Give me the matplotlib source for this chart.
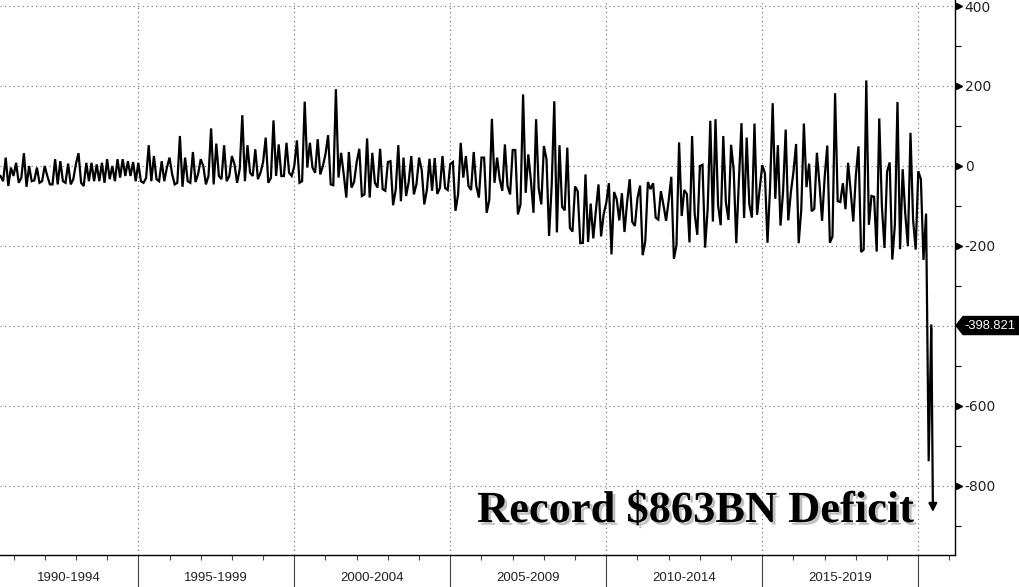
import numpy as np
import pandas as pd
import matplotlib
matplotlib.use('Agg')
import matplotlib.pyplot as plt
import matplotlib.transforms as mtransforms
import matplotlib.patheffects as pe
from matplotlib.patches import Polygon

# monthly federal budget balance, $BN, starting Jul 1990 (month-end points)
budget_1990s = [
    -25, -38, 21, -50, -4, -25,
    8, -42, -30, 32, -52, 0, -38, -36, -4, -42, -38, 0,
    -25, -46, -46, 17, -46, 12, -38, -42, 6, -46, -33, 5,
    32, -42, -50, 8, -38, 8, -38, 4, -38, 8, -42, 17,
    -33, 0, -38, 17, -29, 17, -25, 12, -25, 10, -38, 8,
    -38, -42, -30, 52, -38, 25, -33, -38, 12, -38, -4, 21,
    -20, -46, -42, 75, -52, 21, -38, -42, 35, -40, -20, 17,
    0, -46, -25, 94, -46, 56, -25, -33, 52, -38, -25, 25,
    4, -42, -8, 127, -38, 52, -17, -25, 42, -33, -17, 10,
    71, -42, -30, 114, -25, 54, -25, -25, 58, -17, -25, 0,
]
budget_2000s = [
    64, -42, -38, 161, -4, 58, -4, -17, 67, -21, 0, 30,
    77, -46, -48, 192, -29, 33, -20, -79, 35, -54, -40, 10,
    43, -75, -71, 69, -79, 33, -42, -54, 43, -58, -62, 10,
    12, -98, -60, 52, -88, 21, -75, -40, 25, -71, -45, 21,
    -10, -96, -60, 18, -62, 20, -70, -55, 25, -55, -60, 5,
    10, -112, -71, 58, -29, 25, -50, -60, 35, -50, -79, 21,
    21, -117, -85, 118, -42, 21, -33, -62, 54, -50, -71, 40,
    40, -121, -96, 179, -67, 29, -36, -117, 117, -56, -96, 50,
    17, -175, -48, 162, -166, 52, -102, -111, 46, -155, -164, -51,
    -63, -193, -192, -21, -190, -94, -181, -111, -46, -176, -120, -92,
]
budget_2010s = [
    -43, -221, -65, -83, -136, -68, -165, -91, -33, -140, -150, -80,
    -49, -223, -188, -40, -58, -43, -129, -134, -63, -98, -137, -86,
    -27, -232, -198, 59, -125, -60, -70, -191, 75, -120, -172, 0,
    3, -204, -107, 113, -139, 117, -98, -148, 75, -91, -135, 53,
    -10, -193, -37, 107, -130, 71, -95, -129, 106, -122, -57, 2,
    -18, -192, -53, 157, -82, 52, -149, -64, 91, -136, -65, -14,
    55, -193, -108, 106, -53, 6, -113, -107, 33, -45, -137, -27,
    51, -192, -176, 182, -88, -90, -43, -108, 8, -63, -139, -23,
    49, -215, -209, 214, -147, -75, -77, -214, 119, -100, -205, -14,
    9, -234, -147, 160, -208, -8, -120, -200, 83, -134, -209, -13,
]
budget_2020 = [-33, -235, -119, -738, -398.821]

period_labels = ['1990-1994', '1995-1999', '2000-2004', '2005-2009', '2010-2014', '2015-2019']
y_major = [-800, -600, -200, 0, 200, 400]
last_value = budget_2020[-1]

values = budget_1990s + budget_2000s + budget_2010s + budget_2020
months = pd.period_range('1990-07', periods=len(values), freq='M')
x = np.asarray(months.year + months.month / 12.0, dtype=float)

W, H = 1019, 587
fig = plt.figure(figsize=(W / 100, H / 100), dpi=100)
ax = fig.add_axes([0, 32 / H, 955 / W, 555 / H])
plt.rcParams['font.family'] = ['Liberation Sans', 'DejaVu Sans']

ax.plot(x, values, color='black', lw=1.6, zorder=3, solid_joinstyle='miter')
ax.set_xlim(1990.567, 2021.177)
ax.set_ylim(-972.5, 415)

for s in ['left', 'top']:
    ax.spines[s].set_visible(False)
for s in ['right', 'bottom']:
    ax.spines[s].set_color('black')
    ax.spines[s].set_linewidth(1.0)

# dotted grid
dots = (0, (1, 3))
for v in range(-800, 401, 200):
    ax.axhline(v, color='#6e6e6e', lw=0.8, ls=dots, zorder=1)
for yr in range(1995, 2021, 5):
    ax.axvline(yr, color='#6e6e6e', lw=0.8, ls=dots, zorder=1)

# right axis
ax.yaxis.tick_right()
ax.set_yticks(y_major)
ax.set_yticklabels([str(v) for v in y_major])
ax.set_yticks([-900, -700, -500, -300, -100, 100, 300], minor=True)
ax.tick_params(axis='y', which='major', length=0, pad=7, labelsize=10, labelcolor='#222222')
ax.tick_params(axis='y', which='minor', length=4, width=0.8, color='black')
tri = mtransforms.blended_transform_factory(ax.transAxes, ax.transData)
ax.plot([1 + 4 / 955] * len(y_major), y_major, ls='none', marker='>', ms=5,
        color='black', transform=tri, clip_on=False)

# bottom axis: yearly ticks, long separators every 5 years
ax.set_xticks(range(1995, 2021, 5))
ax.set_xticklabels([])
ax.set_xticks(range(1991, 2022), minor=True)
ax.tick_params(axis='x', which='major', length=23, width=0.8, color='#444444')
ax.tick_params(axis='x', which='minor', length=3.5, width=0.8, color='#444444')
lab_tr = mtransforms.blended_transform_factory(ax.transData, fig.transFigure)
centers = [1992.78] + [1995 + 5 * i + 2.5 for i in range(5)]
for c, lab in zip(centers, period_labels):
    ax.text(c, 9 / H, lab, transform=lab_tr, ha='center', va='center',
            fontsize=9.5, color='#222222')

# last value tag
yp = ax.transData.transform((2000, last_value))[1]
yf = yp / H
hh = 9 / H
tag = Polygon([(956 / W, yf), (963 / W, yf + hh), (1019 / W, yf + hh),
               (1019 / W, yf - hh), (963 / W, yf - hh)],
              closed=True, transform=fig.transFigure, color='black', zorder=5)
fig.patches.append(tag)
fig.text(964 / W, yf, f'{last_value:.3f}', color='white', fontsize=9.3,
         va='center', ha='left', zorder=6)

# annotation
ax.text(2019.89, -890, 'Record $863BN Deficit', ha='right', va='baseline',
        fontsize=32, fontweight='bold', family='Liberation Serif', color='black',
        path_effects=[pe.SimplePatchShadow(offset=(2, -2), shadow_rgbFace='#777777', alpha=0.45),
                      pe.Normal()], zorder=4)
ax.annotate('', xy=(2020.47, -872), xytext=(2020.42, last_value),
            arrowprops=dict(arrowstyle='-|>', color='black', lw=1.6, mutation_scale=12))

fig.savefig('out.png', dpi=100)
